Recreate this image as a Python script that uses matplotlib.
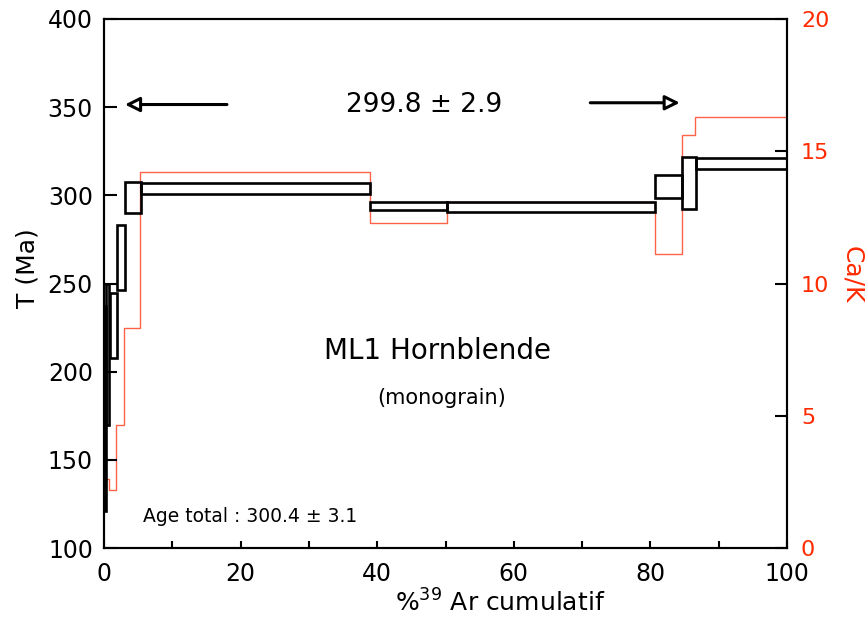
import matplotlib
matplotlib.use('Agg')
import matplotlib.pyplot as plt
from matplotlib.patches import Rectangle
from matplotlib.ticker import MultipleLocator

# ---- data ----
# age steps: cumulative %39Ar bounds, age (Ma) and 1-sigma error
cum_lo = [0.0, 0.3, 0.82, 1.95, 3.07, 5.37, 39.0, 50.2, 80.7, 84.6, 86.7]
cum_hi = [0.3, 0.8, 1.95, 3.07, 5.37, 39.0, 50.2, 80.7, 84.6, 86.7, 100.0]
age = [179.0, 210.0, 226.2, 264.8, 298.6, 303.9, 293.9, 293.6, 304.9, 307.0, 317.9]
err = [58.0, 40.0, 18.2, 18.5, 8.8, 3.2, 2.2, 2.9, 6.6, 15.0, 3.2]

# Ca/K spectrum
cak_edges = [0.0, 0.73, 1.8, 3.0, 5.2, 39.0, 50.2, 80.7, 84.6, 86.5, 100.0]
cak = [2.6, 2.2, 4.65, 8.3, 14.2, 12.3, 13.1, 11.1, 15.6, 16.3]

x_ticks = [0, 20, 40, 60, 80, 100]
y_ticks = [100, 150, 200, 250, 300, 350, 400]
cak_ticks = [0, 5, 10, 15, 20]

plateau_text = "299.8 \u00b1 2.9"
total_text = "Age total : 300.4 \u00b1 3.1"
title_text = "ML1 Hornblende"
sub_text = "(monograin)"

RED = '#ff2a00'
RED_LINE = '#ff6347'

plt.rcParams['font.family'] = ['DejaVu Sans']

W, H = 866, 621
fig = plt.figure(figsize=(W / 100, H / 100), dpi=100)
ax = fig.add_axes([104 / W, 1 - 548 / H, (787 - 104) / W, (548 - 19) / H])
ax2 = ax.twinx()

# Ca/K (drawn underneath)
ax2.stairs(cak, cak_edges, baseline=None, color=RED_LINE, lw=1.0)
ax2.set_ylim(0, 20)
ax2.set_yticks(cak_ticks)
ax2.tick_params(axis='y', direction='in', length=9, width=1.5, colors='black',
                labelcolor=RED, labelsize=16, pad=10)

# age spectrum on top
ax.set_zorder(ax2.get_zorder() + 1)
ax.patch.set_visible(False)
for lo, hi, a, e in zip(cum_lo, cum_hi, age, err):
    ax.add_patch(Rectangle((lo, a - e), hi - lo, 2 * e, fill=False,
                           ec='black', lw=1.9, joinstyle='miter'))

ax.set_xlim(0, 100)
ax.set_ylim(100, 400)
ax.set_xticks(x_ticks)
ax.xaxis.set_minor_locator(MultipleLocator(10))
ax.set_yticks(y_ticks)
ax.tick_params(axis='both', which='both', direction='in', width=1.5,
               labelsize=17)
ax.tick_params(axis='y', length=9, pad=8)
ax.tick_params(axis='x', which='both', length=5, pad=10)
ax.tick_params(top=False, right=False)

for a in (ax, ax2):
    for s in a.spines.values():
        s.set_linewidth(1.5)

# axis titles
fig.text(27 / W, 1 - 268 / H, 'T (Ma)', rotation=90, ha='center', va='center',
         fontsize=18)
fig.text(852 / W, 1 - 275 / H, 'Ca/K', rotation=270, ha='center', va='center',
         fontsize=18, color=RED)
fig.text(500 / W, 1 - 603 / H, r'%$^{39}$ Ar cumulatif', ha='center',
         va='center', fontsize=18)

# annotations
ax.text(46.9, 351.5, plateau_text, ha='center', va='center', fontsize=19)
arrow_kw = dict(arrowstyle='-|>', fc='white', ec='black', lw=2.2,
                mutation_scale=22, shrinkA=0, shrinkB=0)
ax.annotate('', xy=(3.07, 351.5), xytext=(18.0, 351.5), arrowprops=arrow_kw)
ax.annotate('', xy=(84.3, 352.5), xytext=(71.2, 352.5), arrowprops=arrow_kw)

ax.text(48.8, 212.0, title_text, ha='center', va='center', fontsize=20)
ax.text(49.4, 185.0, sub_text, ha='center', va='center', fontsize=15)
ax.text(5.7, 117.7, total_text, ha='left', va='center', fontsize=13.5)

fig.savefig('out.png', dpi=100)
